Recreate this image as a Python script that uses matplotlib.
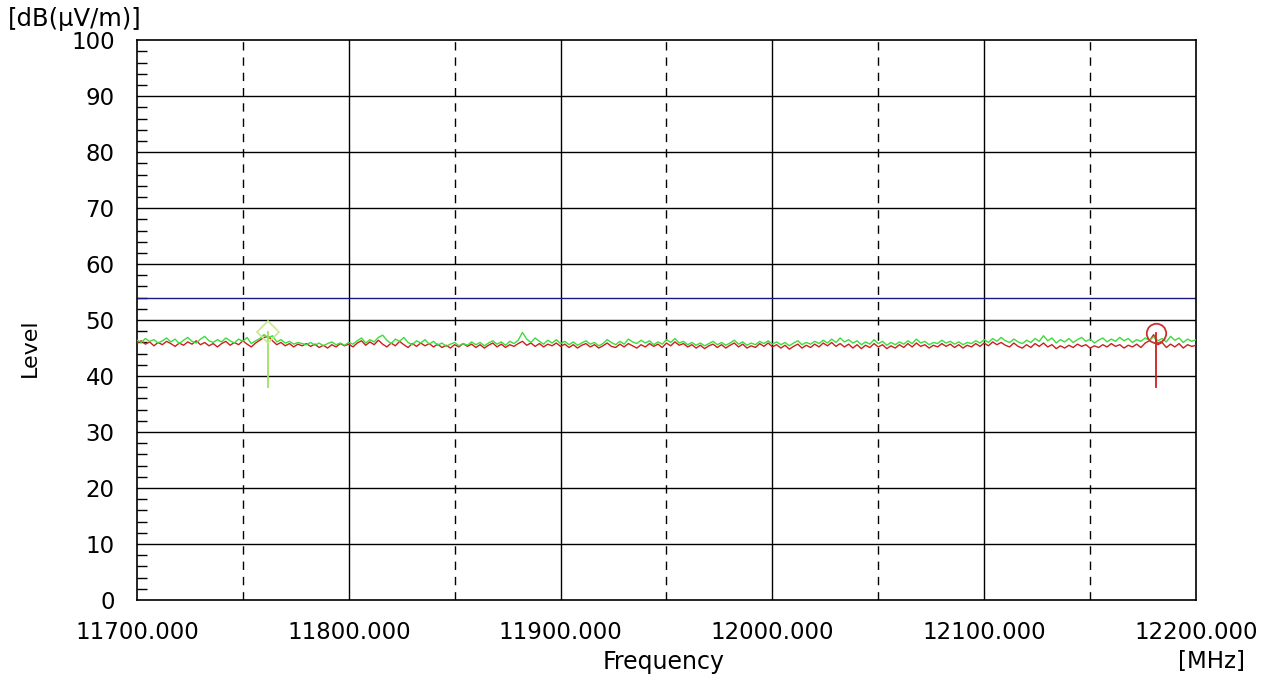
import numpy as np
import matplotlib
matplotlib.use("Agg")
import matplotlib.pyplot as plt
from matplotlib.ticker import MultipleLocator

# sweep 11700..12200 MHz, 2 MHz step
freq = np.arange(11700, 12201, 2)

green = [46.4, 46.0, 46.7, 46.2, 46.5, 45.9, 46.3, 46.8, 46.1, 46.6,
         45.8, 46.4, 46.9, 46.2, 45.9, 46.6, 47.1, 46.3, 46.0, 46.5,
         46.1, 46.8, 46.3, 45.9, 46.6, 46.2, 46.9, 45.8, 46.3, 46.7,
         47.4, 46.8, 47.2, 46.1, 46.5, 45.9, 46.2, 45.7, 46.0, 45.8,
         45.6, 46.0, 45.5, 45.9, 45.4, 45.8, 46.1, 45.6, 45.9, 45.5,
         46.0, 45.7, 46.3, 46.8, 45.9, 46.5, 46.1, 46.9, 47.3, 46.4,
         45.8, 46.6, 46.2, 46.9, 46.0, 45.6, 46.3, 45.9, 46.5, 45.7,
         46.2, 45.5, 45.9, 45.3, 45.7, 46.0, 45.4, 45.8, 45.5, 46.1,
         45.6, 46.0, 45.4, 45.9, 46.3, 45.7, 46.1, 45.5, 46.2, 45.8,
         46.4, 47.8, 46.6, 46.0, 46.8, 46.2, 45.7, 46.4, 45.9, 46.5,
         45.8, 46.2, 45.6, 46.1, 45.5, 45.9, 46.3, 45.7, 46.0, 45.4,
         45.8, 46.5, 46.0, 45.6, 46.2, 45.7, 46.6, 46.1, 45.8, 46.4,
         45.9, 46.3, 45.6, 46.1, 45.7, 46.5, 46.0, 46.7, 45.9, 46.2,
         45.6, 46.0, 45.5, 45.9, 45.4, 45.8, 46.2, 45.6, 46.0, 45.5,
         45.9, 46.4, 45.7, 46.1, 45.5, 45.9, 45.6, 46.2, 45.8, 46.3,
         45.7, 46.1, 45.6, 46.0, 45.4, 45.9, 46.3, 45.6, 46.0, 45.7,
         46.2, 45.8, 46.4, 45.9, 46.6, 46.0, 46.8, 46.1, 46.5, 45.9,
         46.3, 45.6, 46.1, 45.7, 46.5, 45.8, 46.2, 45.5, 46.0, 45.6,
         46.1, 45.7, 46.3, 45.8, 46.6, 45.9, 46.2, 45.6, 46.0, 45.8,
         46.4, 45.9, 46.2, 45.7, 46.1, 45.6, 46.0, 45.8, 46.3, 45.9,
         46.5, 46.0, 46.7, 46.2, 46.9, 46.3, 46.0, 46.6, 46.1, 45.8,
         46.4, 46.0, 46.7, 46.2, 47.2, 46.3, 46.8, 45.9, 46.5, 46.1,
         46.7, 46.0, 46.5, 46.9, 46.2, 46.6, 45.9, 46.4, 46.8, 46.1,
         46.6, 46.2, 46.9, 46.3, 46.7, 46.0, 46.5, 46.2, 46.8, 46.4,
         47.0, 46.3, 46.7, 46.1, 47.1, 46.4, 46.8, 46.0, 46.6, 46.2,
         46.5]

red = [45.9, 46.3, 45.7, 46.1, 45.4, 46.0, 45.6, 46.2, 45.8, 45.3,
       45.9, 45.5, 46.1, 45.7, 46.3, 45.6, 46.0, 45.4, 45.8, 45.2,
       45.8, 46.2, 45.5, 46.0, 45.6, 46.3, 45.7, 45.2, 45.9, 46.4,
       46.9, 47.1, 46.3, 45.6, 46.0, 45.4, 45.8, 45.2, 45.7, 45.4,
       45.8, 45.3, 45.7, 45.1, 45.5, 45.0, 45.6, 45.2, 45.8, 45.4,
       45.7, 45.2, 45.9, 46.3, 45.5, 46.1, 45.6, 46.4, 45.7, 45.2,
       45.9, 45.4, 46.2, 45.6, 45.1, 45.8, 45.3, 45.9, 45.4, 45.8,
       45.2, 45.7, 45.1, 45.5, 45.0, 45.6, 45.2, 45.8, 45.3, 45.7,
       45.1, 45.6, 45.0, 45.5, 45.9, 45.2, 45.7, 45.1, 45.6, 45.3,
       45.8, 46.2, 45.5, 45.9, 45.3, 45.8, 45.2, 45.7, 45.4, 45.9,
       45.3, 45.7, 45.1, 45.6, 45.0, 45.5, 45.8, 45.2, 45.6, 45.0,
       45.4, 45.9, 45.3, 45.1, 45.7, 45.2, 45.8, 45.4, 45.0, 45.6,
       45.2, 45.8, 45.3, 45.7, 45.1, 45.9, 45.4, 46.1, 45.5, 45.8,
       45.2, 45.6, 45.0, 45.5, 44.9, 45.4, 45.7, 45.1, 45.6, 45.0,
       45.5, 45.9, 45.2, 45.7, 45.0, 45.4, 45.1, 45.8, 45.3, 45.9,
       45.2, 45.6, 45.0, 45.5, 44.8, 45.3, 45.7, 45.0, 45.5, 45.1,
       45.7, 45.2, 45.9, 45.4, 46.0, 45.3, 45.8, 45.2, 45.7, 45.0,
       45.6, 44.9, 45.5, 45.1, 45.8, 45.2, 45.6, 44.9, 45.4, 45.0,
       45.6, 45.1, 45.8, 45.2, 45.9, 45.3, 45.6, 45.0, 45.5, 45.2,
       45.8, 45.3, 45.7, 45.1, 45.6, 45.0, 45.5, 45.2, 45.8, 45.3,
       45.9, 45.4, 46.1, 45.6, 46.0, 45.5, 45.2, 45.9, 45.3, 45.0,
       45.6, 45.1, 45.8, 45.3, 45.9, 45.2, 45.6, 44.9, 45.4, 45.0,
       45.5, 45.1, 45.7, 45.3, 45.6, 45.0, 45.4, 45.1, 45.6, 45.2,
       45.8, 45.3, 45.6, 45.0, 45.5, 45.2, 45.7, 45.1, 45.9, 46.3,
       47.4, 45.6, 46.0, 45.1, 45.7, 45.2, 45.8, 45.0, 45.6, 45.3,
       45.5]

limit = 54.0
# peak markers (freq, level); marker line drops to 38 dB
green_peak = (11762, 47.8)
red_peak = (12181, 47.7)
marker_bottom = 38.0

fig = plt.figure(figsize=(12.87, 6.81), dpi=100)
ax = fig.add_axes([0.1064, 0.119, 0.8229, 0.822])

ax.set_xlim(11700, 12200)
ax.set_ylim(0, 100)

# grid
for x in range(11800, 12200, 100):
    ax.axvline(x, color="black", lw=1.0, zorder=1)
for x in range(11750, 12200, 100):
    ax.axvline(x, color="black", lw=1.0, ls=(0, (6, 5)), zorder=1)
for y in range(10, 100, 10):
    ax.axhline(y, color="black", lw=1.0, zorder=1)
ax.axhline(limit, color="#1a1a80", lw=1.0, zorder=2)

ax.plot(freq, red, color="#cc1f1f", lw=1.0, zorder=3)
ax.plot(freq, green, color="#3ddc3d", lw=1.0, zorder=4)

# markers
ax.plot([green_peak[0], green_peak[0]], [marker_bottom, green_peak[1]], color="#9fe060", lw=1.3, zorder=5)
ax.plot(green_peak[0], green_peak[1], marker="D", ms=11, mfc="none", mec="#c8e890", mew=1.2, zorder=5)
ax.plot([red_peak[0], red_peak[0]], [marker_bottom, red_peak[1]], color="#cc2020", lw=1.3, zorder=5)
ax.plot(red_peak[0], red_peak[1], marker="o", ms=14, mfc="none", mec="#cc3030", mew=1.3, zorder=5)

ax.xaxis.set_major_locator(MultipleLocator(100))
ax.yaxis.set_major_locator(MultipleLocator(10))
ax.yaxis.set_minor_locator(MultipleLocator(2))
ax.set_xticklabels([f"{v:.3f}" for v in ax.get_xticks()])
ax.tick_params(axis="both", which="major", length=0, labelsize=16.5)
ax.tick_params(axis="x", which="major", pad=15)
ax.tick_params(axis="y", which="major", pad=16)
ax.tick_params(axis="y", which="minor", direction="in", length=7, width=1)
for s in ax.spines.values():
    s.set_color("black")
    s.set_linewidth(1.2)

fig.text(0.023, 0.49, "Level", rotation=90, fontsize=16, ha="center", va="center")
fig.text(0.516, 0.028, "Frequency", fontsize=17, ha="center", va="center")
fig.text(0.941, 0.028, "[MHz]", fontsize=16.5, ha="center", va="center")
fig.text(0.006, 0.972, "[dB(\u03bcV/m)]", fontsize=17.5, ha="left", va="center")

fig.savefig("out.png", dpi=100)
